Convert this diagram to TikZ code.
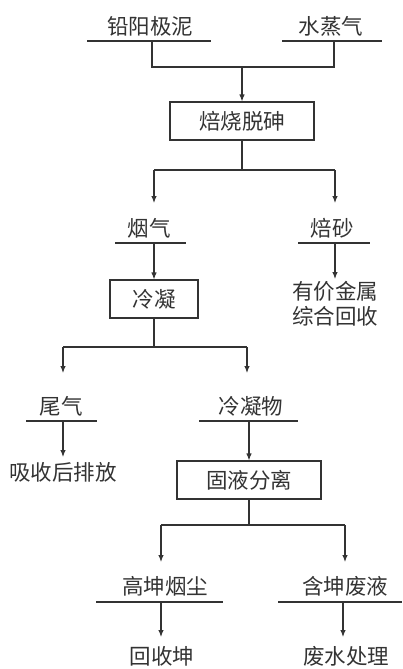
\documentclass[tikz,border=0pt]{standalone}
\usepackage{fontspec}
\newfontfamily\cjk{Noto Sans CJK SC}
\usetikzlibrary{arrows.meta}
\definecolor{ink}{HTML}{333333}
\begin{document}
\begin{tikzpicture}[x=1pt,y=-1pt,
  lab/.style={inner sep=0pt, text=ink, font=\cjk\fontsize{21.5}{25}\selectfont, align=center},
  procbox/.style={draw=ink, line width=1.1pt, inner sep=0pt, minimum width=#1, minimum height=38pt, text=ink, font=\cjk\fontsize{21.5}{25}\selectfont},
  ul/.style={draw=ink, line width=1.1pt},
  flow/.style={draw=ink, line width=1.1pt},
  arr/.style={draw=ink, line width=1.1pt, -{Latex[length=7pt,width=5.5pt]}}]
\useasboundingbox (0,0) rectangle (402,669);
% labels
\node[lab] (a) at (150,26) {铅阳极泥};
\node[lab] (b) at (331,26) {水蒸气};
\node[procbox=144pt] (p1) at (242,121) {焙烧脱砷};
\node[lab] (c) at (149,228) {烟气};
\node[lab] (d) at (332,228) {焙砂};
\node[procbox=88pt] (p2) at (154,299) {冷凝};
\node[lab] (e) at (335,304) {有价金属\\综合回收};
\node[lab] (f) at (61,406) {尾气};
\node[lab] (g) at (251,406) {冷凝物};
\node[lab] (h) at (63,472) {吸收后排放};
\node[procbox=144pt] (p3) at (249,480) {固液分离};
\node[lab] (i) at (165,586) {高坤烟尘};
\node[lab] (j) at (345,586) {含坤废液};
\node[lab] (k) at (162,656) {回收坤};
\node[lab] (l) at (346,656) {废水处理};
% underlines
\draw[ul] (87,41) -- (211,41);
\draw[ul] (282,41) -- (382,41);
\draw[ul] (115,243) -- (186,243);
\draw[ul] (298,243) -- (370,243);
\draw[ul] (26,421) -- (97,421);
\draw[ul] (199,421) -- (298,421);
\draw[ul] (96,602) -- (223,602);
\draw[ul] (278,602) -- (402,602);
% coordinates
\coordinate (a1) at (152,41);
\coordinate (b1) at (334,41);
\coordinate (j1) at (242,67);
\coordinate (s1) at (242,170);
\coordinate (s1l) at (154,170);
\coordinate (s1r) at (335,170);
\coordinate (c1) at (154,243);
\coordinate (d1) at (335,243);
\coordinate (s2) at (154,347);
\coordinate (s2l) at (63,347);
\coordinate (s2r) at (247,347);
\coordinate (f1) at (63,421);
\coordinate (g1) at (249,421);
\coordinate (s3) at (249,525);
\coordinate (s3l) at (161,525);
\coordinate (s3r) at (345,525);
\coordinate (i1) at (161,602);
\coordinate (jj1) at (343,602);
% connectors
\draw[flow] (a1) |- (j1) -| (b1);
\draw[arr] (j1) -- (j1 |- p1.north);
\draw[flow] (p1.south) -- (s1);
\draw[flow] (s1l) -- (s1r);
\draw[arr] (s1l) -- (154,203);
\draw[arr] (s1r) -- (335,203);
\draw[arr] (c1) -- (c1 |- p2.north);
\draw[arr] (d1) -- (335,279);
\draw[flow] (p2.south) -- (s2);
\draw[flow] (s2l) -- (s2r);
\draw[arr] (s2l) -- (63,373);
\draw[arr] (s2r) -- (247,373);
\draw[arr] (f1) -- (63,457);
\draw[arr] (g1) -- (g1 |- p3.north);
\draw[flow] (p3.south) -- (s3);
\draw[flow] (s3l) -- (s3r);
\draw[arr] (s3l) -- (161,562);
\draw[arr] (s3r) -- (345,562);
\draw[arr] (i1) -- (161,637);
\draw[arr] (jj1) -- (343,637);
\end{tikzpicture}
\end{document}
